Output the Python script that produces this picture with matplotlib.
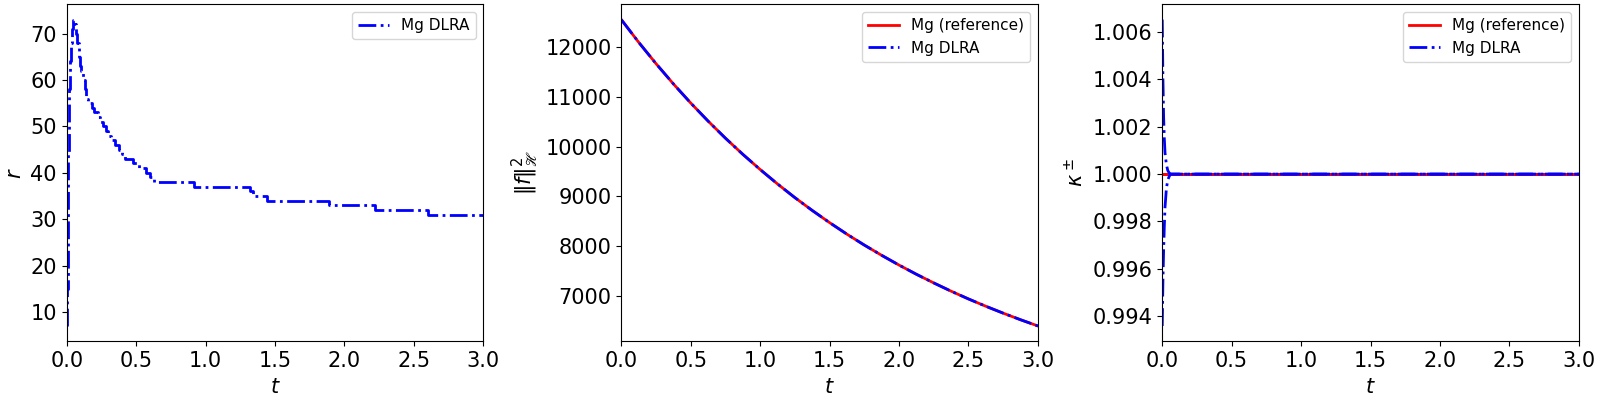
import numpy as np
from matplotlib import pyplot as plt

# rank of the DLRA solution (step breakpoints)
t_rank = [0.000, 0.003, 0.006, 0.009, 0.012, 0.016, 0.020, 0.025, 0.030, 0.036,
          0.042, 0.062, 0.068, 0.075, 0.085, 0.095, 0.105, 0.120, 0.130, 0.140,
          0.155, 0.180, 0.200, 0.225, 0.240, 0.260, 0.285, 0.300, 0.320, 0.345,
          0.380, 0.400, 0.420, 0.480, 0.520, 0.570, 0.600, 0.625, 0.920, 1.320,
          1.340, 1.440, 1.890, 2.220, 2.600, 3.000]
rank = [7, 15, 25, 35, 44, 52, 58, 64, 68, 71,
        73, 72, 70, 68, 65, 63, 62, 60, 58, 56,
        55, 54, 53, 52, 51, 50, 49, 48, 47, 46,
        45, 44, 43, 42, 41, 40, 39, 38, 37, 36,
        35, 34, 33, 32, 31, 31]

# squared norm
t_norm = [0.0, 0.125, 0.25, 0.375, 0.5, 0.625, 0.75, 0.875, 1.0, 1.125, 1.25, 1.375,
          1.5, 1.625, 1.75, 1.875, 2.0, 2.125, 2.25, 2.375, 2.5, 2.625, 2.75, 2.875, 3.0]
norm_ref = [12556, 12101, 11671, 11264, 10879, 10516, 10172, 9848, 9542, 9252, 8977, 8719,
            8474, 8242, 8023, 7817, 7621, 7436, 7262, 7096, 6940, 6793, 6654, 6522, 6397]
norm_dlra = [12556, 12101, 11671, 11264, 10879, 10516, 10172, 9848, 9542, 9252, 8977, 8719,
             8474, 8242, 8023, 7817, 7621, 7436, 7262, 7096, 6940, 6793, 6654, 6522, 6397]

# kappa +/- (mass conservation factors)
t_kappa = [0.0, 0.005, 0.01, 0.015, 0.02, 0.03, 0.04, 0.05, 0.06, 0.08, 0.1, 0.5, 1.0, 1.5, 2.0, 2.5, 3.0]
kappa_plus = [1.00653, 1.0040, 1.0024, 1.0015, 1.0009, 1.0004, 1.00015, 1.00005, 1.0, 1.0, 1.0,
              1.0, 1.0, 1.0, 1.0, 1.0, 1.0]
kappa_minus = [0.99358, 0.9955, 0.9968, 0.9978, 0.9986, 0.9994, 0.99975, 0.9999, 1.0, 1.0, 1.0,
               1.0, 1.0, 1.0, 1.0, 1.0, 1.0]
kappa_ref = [1.0] * len(t_kappa)

fs = 15
fig, ax_list = plt.subplots(1, 3, figsize=(16, 4), dpi=100)
lefts = [0.0417, 0.3883, 0.7264]
for ax, l in zip(ax_list, lefts):
    ax.set_position([l, 0.1468, 0.2604, 0.8425])

ax = ax_list[0]
ax.plot(t_rank, rank, 'b-.', lw=2, drawstyle='steps-post', label='Mg DLRA')
ax.set_ylabel(r'$r$', fontsize=fs)

ax = ax_list[1]
ax.plot(t_norm, norm_ref, 'r-', lw=2, label='Mg (reference)')
ax.plot(t_norm, norm_dlra, 'b-.', lw=2, label='Mg DLRA')
ax.set_ylabel(r'$\|f\|^2_{\mathscr{H}}$', fontsize=fs)

ax = ax_list[2]
ax.plot(t_kappa, kappa_ref, 'r-', lw=2, label='Mg (reference)')
ax.plot(t_kappa, kappa_ref, 'r-', lw=2)
ax.plot(t_kappa, kappa_plus, 'b-.', lw=2, label='Mg DLRA')
ax.plot(t_kappa, kappa_minus, 'b-.', lw=2)
ax.set_ylabel(r'$\kappa^\pm$', fontsize=fs)

for ax in ax_list:
    ax.set_xlim(0, 3)
    ax.set_xlabel(r'$t$', fontsize=fs)
    ax.tick_params(labelsize=fs)
    ax.legend(loc='upper right', fontsize=11)

fig.savefig('out.png')
